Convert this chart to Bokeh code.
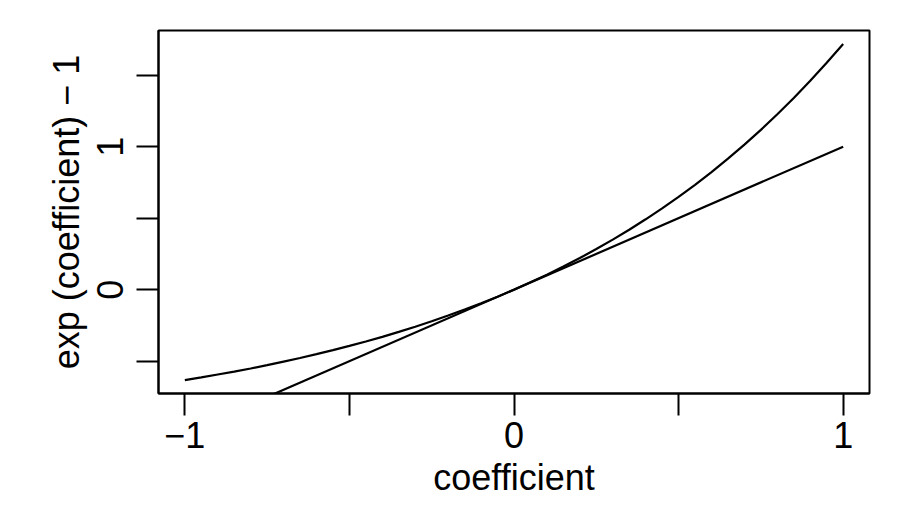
from bokeh.plotting import figure
from bokeh.models import FixedTicker, Range1d
from bokeh.embed import file_html
from bokeh.resources import INLINE

# data
coef = [-1.00, -0.95, -0.90, -0.85, -0.80, -0.75, -0.70, -0.65, -0.60, -0.55,
        -0.50, -0.45, -0.40, -0.35, -0.30, -0.25, -0.20, -0.15, -0.10, -0.05,
        0.00, 0.05, 0.10, 0.15, 0.20, 0.25, 0.30, 0.35, 0.40, 0.45,
        0.50, 0.55, 0.60, 0.65, 0.70, 0.75, 0.80, 0.85, 0.90, 0.95, 1.00]
exp_minus_one = [-0.632, -0.613, -0.593, -0.573, -0.551, -0.528, -0.503, -0.478, -0.451, -0.423,
                 -0.393, -0.362, -0.330, -0.295, -0.259, -0.221, -0.181, -0.139, -0.095, -0.049,
                 0.000, 0.051, 0.105, 0.162, 0.221, 0.284, 0.350, 0.419, 0.492, 0.568,
                 0.649, 0.733, 0.822, 0.916, 1.014, 1.117, 1.226, 1.340, 1.460, 1.586, 1.718]
identity_x = [-1.0, 1.0]
identity_y = [-1.0, 1.0]

x_ticks = [-1.0, -0.5, 0.0, 0.5, 1.0]
x_labels = {-1.0: "\u22121", -0.5: "", 0.0: "0", 0.5: "", 1.0: "1"}
y_ticks = [-0.5, 0.0, 0.5, 1.0, 1.5]
y_labels = {-0.5: "", 0.0: "0", 0.5: "", 1.0: "1", 1.5: ""}

FONT = "Liberation Sans"
FS = "36px"

p = figure(frame_width=711, frame_height=363,
           min_border_left=158, min_border_top=30, min_border_right=29, min_border_bottom=109,
           x_range=Range1d(-1.08, 1.08), y_range=Range1d(-0.726, 1.812),
           output_backend="svg", toolbar_location=None)
p.grid.visible = False
p.outline_line_color = "black"
p.outline_line_width = 2
p.background_fill_color = "white"
p.border_fill_color = "white"

p.line(coef, exp_minus_one, line_color="black", line_width=2.2)
p.line(identity_x, identity_y, line_color="black", line_width=2.2)

for ax, ticks, labels in ((p.xaxis[0], x_ticks, x_labels), (p.yaxis[0], y_ticks, y_labels)):
    ax.ticker = FixedTicker(ticks=ticks, minor_ticks=[])
    ax.major_label_overrides = labels
    ax.axis_line_color = "black"
    ax.axis_line_width = 2
    ax.major_tick_line_color = "black"
    ax.major_tick_line_width = 2
    ax.major_tick_in = 0
    ax.major_tick_out = 22
    ax.minor_tick_line_color = None
    ax.major_label_text_font = FONT
    ax.major_label_text_font_size = FS
    ax.major_label_text_color = "black"
    ax.axis_label_text_font = FONT
    ax.axis_label_text_font_size = FS
    ax.axis_label_text_font_style = "normal"
    ax.axis_label_text_color = "black"

p.xaxis.axis_label = "coefficient"
p.yaxis.axis_label = "exp (coefficient) \u2212 1"
p.yaxis.major_label_orientation = "vertical"
p.xaxis.major_label_standoff = 6
p.yaxis.major_label_standoff = 13
p.xaxis.axis_label_standoff = 6
p.yaxis.axis_label_standoff = 8

open("out.html", "w").write(file_html(p, INLINE))
